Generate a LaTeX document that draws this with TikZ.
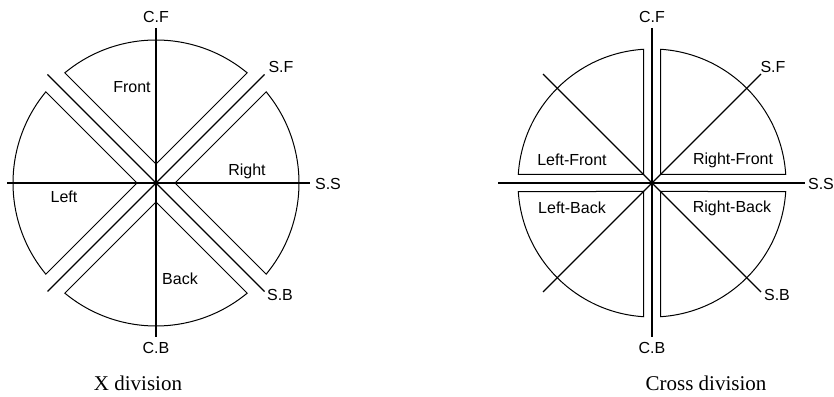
\documentclass[tikz,border=0pt]{standalone}
\usepackage{fontspec}
\usetikzlibrary{calc}
\setmainfont{Liberation Serif}
\newfontfamily\labfont{Liberation Sans}
\begin{document}
\begin{tikzpicture}[x=1pt,y=1pt,
  ax/.style={line width=1.3pt},
  sect/.style={line width=1pt,line join=miter},
  lab/.style={font=\labfont\fontsize{16}{18}\selectfont,inner sep=0pt},
  captext/.style={font=\fontsize{21}{24}\selectfont,inner sep=0pt}]
\useasboundingbox (0,0) rectangle (834,396);
% ---------- X division ----------
\coordinate (O1) at (156,213);
\coordinate (cf1) at (156,368);
\coordinate (cb1) at (156,59);
\coordinate (sl1) at (7,213);
\coordinate (sr1) at (310,213);
\coordinate (d1a) at ($(O1)+(108.5,108.5)$);
\coordinate (d1b) at ($(O1)+(-108.5,108.5)$);
\coordinate (d1c) at ($(O1)+(-108.5,-108.5)$);
\coordinate (d1d) at ($(O1)+(108.5,-108.5)$);
\draw[ax] (cf1) -- (cb1);
\draw[ax] (sl1) -- (sr1);
\draw[ax] (d1a) -- (d1c);
\draw[ax] (d1b) -- (d1d);
\fill (O1) circle (2.2);
% sectors
\draw[sect] ($(O1)+(0,19)$) -- ($(O1)+(50.4:143)$) arc (50.4:129.6:143) -- cycle;
\draw[sect] ($(O1)+(19,0)$) -- ($(O1)+(-39.6:143)$) arc (-39.6:39.6:143) -- cycle;
\draw[sect] ($(O1)+(0,-19)$) -- ($(O1)+(230.4:143)$) arc (230.4:309.6:143) -- cycle;
\draw[sect] ($(O1)+(-19,0)$) -- ($(O1)+(140.4:143)$) arc (140.4:219.6:143) -- cycle;
% labels
\node[lab] (lcf1) at (156,379) {C.F};
\node[lab] (lsf1) at (281,329) {S.F};
\node[lab] (lss1) at (328,212) {S.S};
\node[lab] (lsb1) at (280,101) {S.B};
\node[lab] (lcb1) at (156,48) {C.B};
\node[lab] (front) at (132,309) {Front};
\node[lab] (right) at (247,225) {Right};
\node[lab] (left) at (64,199) {Left};
\node[lab] (back) at (180,117) {Back};
\node[captext] (capx) at (138,13) {X division};
% ---------- Cross division ----------
\coordinate (O2) at (652,213);
\coordinate (cf2) at (652,368);
\coordinate (cb2) at (652,59);
\coordinate (sl2) at (498,213);
\coordinate (sr2) at (805,213);
\coordinate (d2a) at ($(O2)+(109,109)$);
\coordinate (d2b) at ($(O2)+(-109,109)$);
\coordinate (d2c) at ($(O2)+(-109,-109)$);
\coordinate (d2d) at ($(O2)+(109,-109)$);
\draw[ax] (cf2) -- (cb2);
\draw[ax] (sl2) -- (sr2);
\draw[ax] (d2a) -- (d2c);
\draw[ax] (d2b) -- (d2d);
\fill (O2) circle (2.2);
\draw[sect] ($(O2)+(8.5,8.5)$) -- ($(O2)+(3.64:134)$) arc (3.64:86.36:134) -- cycle;
\draw[sect] ($(O2)+(-8.5,8.5)$) -- ($(O2)+(176.36:134)$) arc (176.36:93.64:134) -- cycle;
\draw[sect] ($(O2)+(-8.5,-8.5)$) -- ($(O2)+(183.64:134)$) arc (183.64:266.36:134) -- cycle;
\draw[sect] ($(O2)+(8.5,-8.5)$) -- ($(O2)+(356.36:134)$) arc (356.36:273.64:134) -- cycle;
\node[lab] (lcf2) at (652,379) {C.F};
\node[lab] (lsf2) at (773,329) {S.F};
\node[lab] (lss2) at (821,212) {S.S};
\node[lab] (lsb2) at (777,101) {S.B};
\node[lab] (lcb2) at (652,48) {C.B};
\node[lab] (lf) at (572,236) {Left-Front};
\node[lab] (rf) at (733,236) {Right-Front};
\node[lab] (lb) at (572,188) {Left-Back};
\node[lab] (rb) at (732,188) {Right-Back};
\node[captext] (capc) at (706,13) {Cross division};
\end{tikzpicture}
\end{document}
